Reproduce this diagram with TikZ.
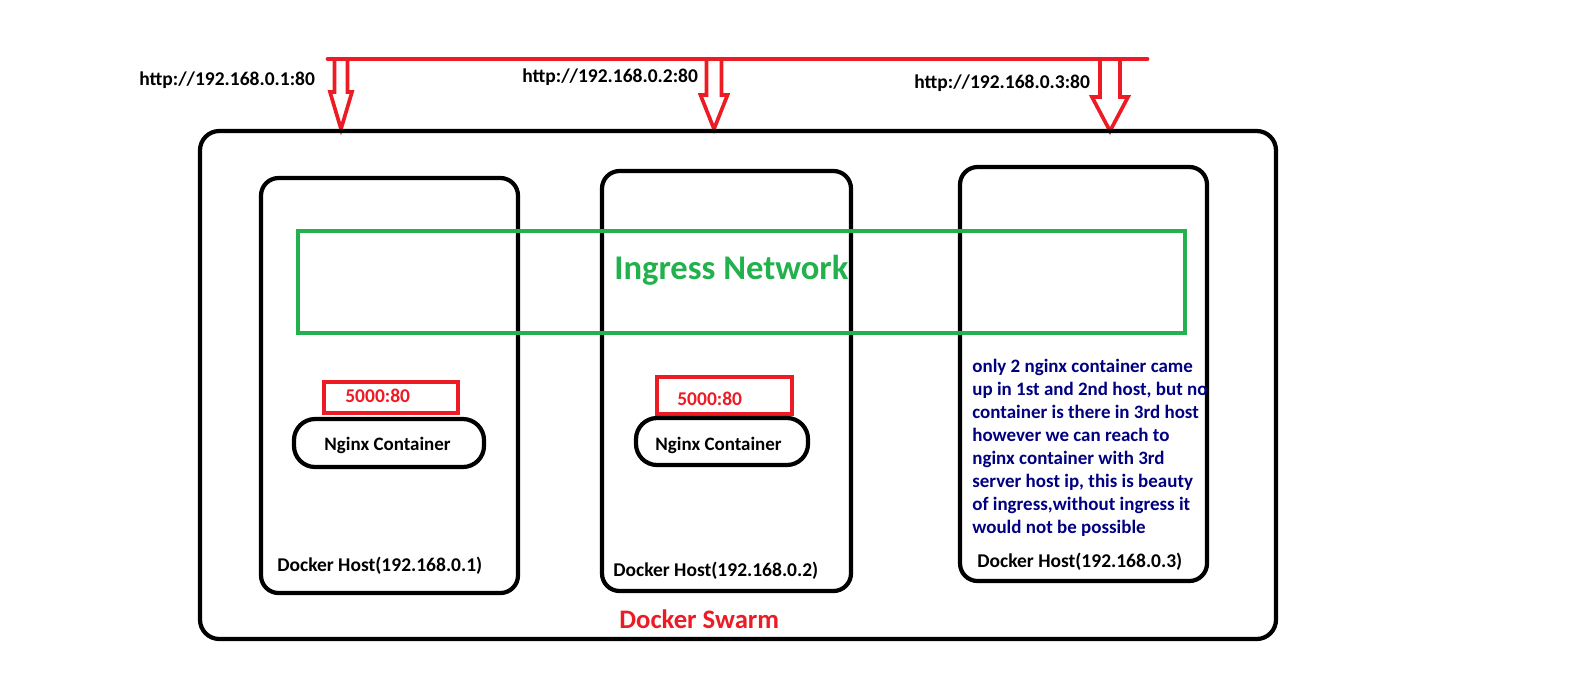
\documentclass[tikz,border=0pt]{standalone}
\usepackage{fontspec}
\setmainfont{Carlito}
\usepackage{tikz}
\definecolor{swarmred}{RGB}{237,28,36}
\definecolor{ingressgreen}{RGB}{34,177,76}
\definecolor{notenavy}{RGB}{0,0,128}

\begin{document}
\begin{tikzpicture}[x=0.02cm,y=-0.02cm,
    blackbox/.style={draw=black,line width=2.4pt,rounded corners=11pt},
    portbox/.style={draw=swarmred,line width=2.2pt},
    blockarrow/.style={draw=swarmred,fill=white,line width=2.1pt},
    txt/.style={anchor=base west,inner sep=0pt,font=\bfseries\fontsize{10.8}{13}\selectfont},
    bigtxt/.style={txt,font=\bfseries\fontsize{11.1}{13}\selectfont}]
    \def\ly{59} % y of the red line

    \useasboundingbox (0,0) rectangle (1575,674);

    % block arrows down to the swarm
    \foreach \x/\s/\h/\hy/\ty in {341/6.5/11/92/129, 714/7.5/13.5/95/129, 1110/10/18/97/131} {
        \draw[blockarrow] (\x-\s,\ly) -- (\x-\s,\hy) -- (\x-\h,\hy) -- (\x,\ty) -- (\x+\h,\hy) -- (\x+\s,\hy) -- (\x+\s,\ly);
    }
    \draw[swarmred,line width=2.8pt,line cap=round] (328,\ly) -- (1147,\ly);

    \node[bigtxt] (url1) at (139,85) {http://192.168.0.1:80};
    \node[bigtxt] (url2) at (522,82) {http://192.168.0.2:80};
    \node[bigtxt] (url3) at (914,88) {http://192.168.0.3:80};

    % swarm and hosts
    \draw[blackbox] (200,131) rectangle (1276,639);
    \draw[blackbox,rounded corners=10pt] (261,178) rectangle (518,593);
    \draw[blackbox,rounded corners=10pt] (602,171) rectangle (851,591);
    \draw[blackbox,rounded corners=10pt] (960,167) rectangle (1207,581);

    % ingress network
    \draw[ingressgreen,line width=2.2pt] (298,231) rectangle (1185,333);
    \node[txt,text=ingressgreen,font=\bfseries\fontsize{19.7}{22}\selectfont] (ingress) at (614,279) {Ingress Network};

    % containers
    \draw[portbox] (324,382) rectangle (458,413);
    \node[bigtxt,text=swarmred] (port1) at (345,402) {5000:80};
    \draw[blackbox,rounded corners=12pt] (294,419) rectangle (484,467);
    \node[txt] (nginx1) at (324,450) {Nginx Container};

    \draw[portbox] (657,377) rectangle (792,414);
    \node[bigtxt,text=swarmred] (port2) at (677,405) {5000:80};
    \draw[blackbox,rounded corners=12pt] (636,418) rectangle (808,465);
    \node[txt] (nginx2) at (655,450) {Nginx Container};

    % note in 3rd host
    \foreach \l [count=\i] in {only 2 nginx container came, {up in 1st and 2nd host, but no}, container is there in 3rd host, however we can reach to, nginx container with 3rd, {server host ip, this is beauty}, {of ingress,without ingress it}, would not be possible} {
        \node[txt,text=notenavy] (note\i) at (972,372+23*\i-23) {\l};
    }

    \node[bigtxt] (host1) at (277,571) {Docker Host(192.168.0.1)};
    \node[bigtxt] (host2) at (613,576) {Docker Host(192.168.0.2)};
    \node[bigtxt] (host3) at (977,567) {Docker Host(192.168.0.3)};

    \node[txt,text=swarmred,font=\bfseries\fontsize{15.2}{18}\selectfont] (swarm) at (619,628) {Docker Swarm};
\end{tikzpicture}
\end{document}
